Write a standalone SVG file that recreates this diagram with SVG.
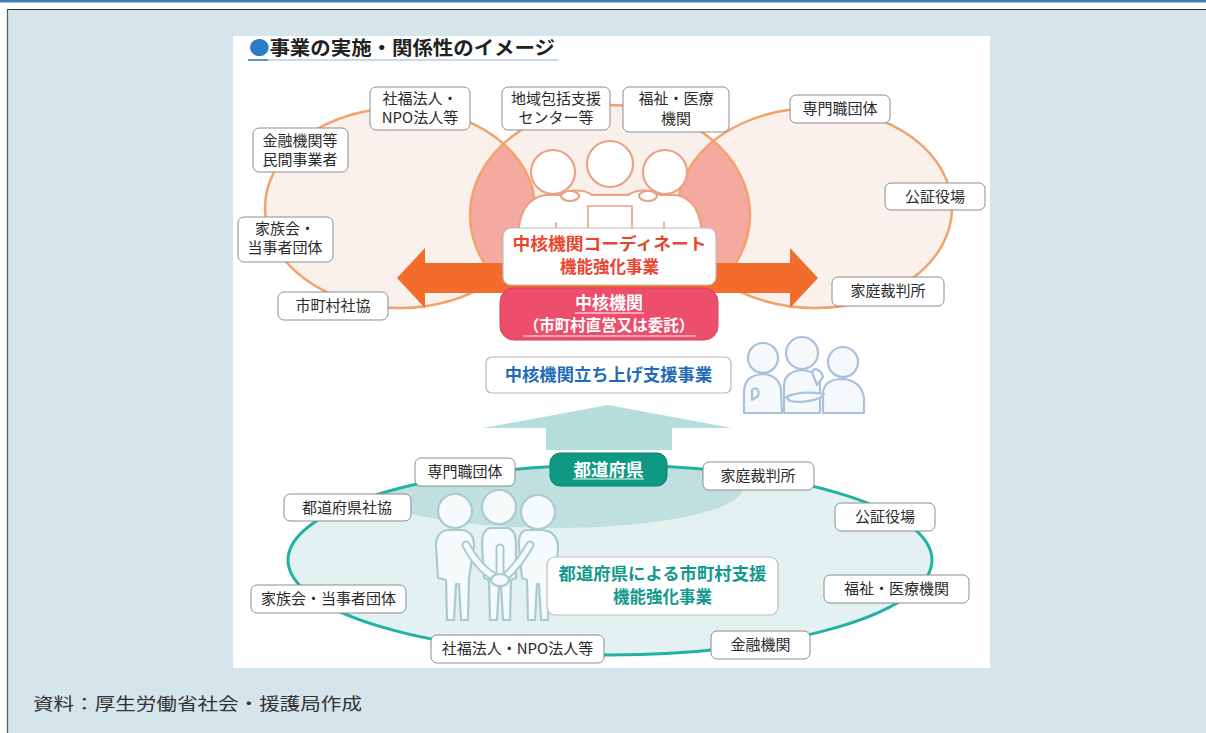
<svg xmlns="http://www.w3.org/2000/svg" width="1206" height="733" viewBox="0 0 1206 733">
  <style>
    .lbl rect { fill: #ffffff; stroke: #8c8c8c; stroke-width: 1; }
    .lbl text { font-family: "Noto Sans CJK JP", "Noto Sans", sans-serif; font-size: 15px; fill: #2b2b2b; text-anchor: middle; }
    .b { font-family: "Noto Sans CJK JP", "Noto Sans", sans-serif; font-weight: bold; text-anchor: middle; }
    .orangeP { fill: #ffffff; stroke: #eaa184; stroke-width: 2.2; stroke-linejoin: round; }
    .blueP { fill: #f6f9fc; stroke: #a9c1dd; stroke-width: 2.2; stroke-linejoin: round; }
    .tealP { fill: #f5fafa; stroke: #a9cbcf; stroke-width: 2.2; stroke-linejoin: round; }
    .armOut { fill: none; stroke: #a9cbcf; stroke-width: 9; stroke-linecap: round; }
    .armIn { fill: none; stroke: #f5fafa; stroke-width: 5; stroke-linecap: round; }
  </style>
  <defs>
    <clipPath id="midClip"><ellipse cx="610" cy="215" rx="140" ry="110"/></clipPath>
    <clipPath id="lowClip"><ellipse cx="610" cy="560" rx="322" ry="95"/></clipPath>
  </defs>

  <!-- page frame -->
  <rect x="0" y="0" width="1206" height="733" fill="#ffffff"/>
  <rect x="0" y="0" width="1206" height="2.5" fill="#3f7fb4"/>
  <rect x="7" y="9" width="1199" height="724" fill="#d6e4eb"/>
  <line x1="7" y1="9.5" x2="1206" y2="9.5" stroke="#333" stroke-width="1.2"/>
  <line x1="7.5" y1="9" x2="7.5" y2="733" stroke="#555" stroke-width="1.2"/>
  <rect x="233" y="36" width="757" height="632" fill="#ffffff"/>

  <!-- title -->
  <text x="249" y="55" font-family="'Noto Sans CJK JP', sans-serif" font-weight="bold" font-size="19" fill="#222" textLength="306" lengthAdjust="spacingAndGlyphs"><tspan fill="#2a7bc8">●</tspan>事業の実施・関係性のイメージ</text>
  <line x1="248" y1="60" x2="268" y2="60" stroke="#2a6db5" stroke-width="1.5"/>
  <line x1="268" y1="60" x2="558" y2="60" stroke="#8fb3d6" stroke-width="1.2"/>

  <!-- upper circles -->
  <g id="circles-top">
    <ellipse cx="400" cy="208" rx="135" ry="100" fill="#faf1ec"/>
    <ellipse cx="815" cy="208" rx="137" ry="100" fill="#faf1ec"/>
    <ellipse cx="610" cy="215" rx="140" ry="110" fill="#faf0eb"/>
    <g clip-path="url(#midClip)">
      <ellipse cx="400" cy="208" rx="135" ry="100" fill="#f5aaa0"/>
      <ellipse cx="815" cy="208" rx="137" ry="100" fill="#f5aaa0"/>
    </g>
    <g fill="none" stroke="#f4a26c" stroke-width="2.5">
      <ellipse cx="400" cy="208" rx="135" ry="100"/>
      <ellipse cx="815" cy="208" rx="137" ry="100"/>
      <ellipse cx="610" cy="215" rx="140" ry="110"/>
    </g>
  </g>

  <!-- lower circle -->
  <g id="circle-bottom">
    <ellipse cx="610" cy="560" rx="322" ry="95" fill="#e3f1f1"/>
    <g clip-path="url(#lowClip)">
      <ellipse cx="555" cy="488" rx="188" ry="40" fill="#bfe0df"/>
    </g>
    <ellipse cx="610" cy="560" rx="322" ry="95" fill="none" stroke="#22b2a4" stroke-width="3"/>
  </g>

  <!-- people: team around the core office -->
  <g id="people-top">
    <path class="orangeP" d="M518,240 C518,214 527,198 545,195 L560,195 C568,189 585,189 592,195 L628,195 C636,189 652,189 660,195 L676,195 C694,198 702,214 702,240 Z"/>
    <path d="M588,240 L588,206 L632,206 L632,240 M556,240 L556,222 M664,240 L664,222" fill="none" stroke="#eaa184" stroke-width="1.6"/>
    <circle class="orangeP" cx="553" cy="172" r="22"/>
    <circle class="orangeP" cx="665" cy="172" r="22"/>
    <circle class="orangeP" cx="610" cy="164" r="23"/>
    <ellipse class="orangeP" cx="570" cy="196" rx="9" ry="5"/>
    <ellipse class="orangeP" cx="648" cy="196" rx="9" ry="5"/>
  </g>

  <!-- connectors -->
  <g id="connectors">
    <polygon points="397,278 425,248 425,263 790,263 790,248 818,278 790,308 790,293 425,293 425,308" fill="#f26c2b"/>
    <polygon points="608,405 732,428 672,428 672,450 546,450 546,428 483,428" fill="#b3dedb"/>
  </g>

  <!-- core coordination box -->
  <g id="node-coordinate">
    <rect x="503" y="228" width="213" height="57" rx="8" fill="#ffffff" stroke="#bdbdbd" stroke-width="1.2"/>
    <text class="b" font-size="16.5" fill="#e8452f" textLength="194" lengthAdjust="spacingAndGlyphs" x="609.5" y="250">中核機関コーディネート</text>
    <text class="b" font-size="16.5" fill="#e8452f" x="609.5" y="273">機能強化事業</text>
  </g>

  <g id="node-core">
    <rect x="500" y="288" width="218" height="52" rx="14" fill="#ec4e6b" stroke="#e23c5b" stroke-width="1"/>
    <text class="b" fill="#ffffff"><tspan x="609" y="309" font-size="17">中核機関</tspan><tspan x="609" y="331" font-size="15.5">（市町村直営又は委託）</tspan></text>
    <line x1="575" y1="313" x2="644" y2="313" stroke="#ffffff" stroke-width="1.2"/>
    <line x1="523" y1="336" x2="696" y2="336" stroke="#ffffff" stroke-width="1.2"/>
  </g>

  <g id="node-launch">
    <rect x="486" y="357" width="245" height="36" rx="6" fill="#ffffff" stroke="#b8b8b8" stroke-width="1.2"/>
    <text class="b" x="608.5" y="381" font-size="17.3" fill="#1f6bb5">中核機関立ち上げ支援事業</text>
  </g>

  <!-- people: discussion group -->
  <g id="people-mid">
    <path class="blueP" d="M744,413 L744,392 C744,381 750,375 763,374 C775,375 780,381 781,390 L782,413 Z"/>
    <path class="blueP" d="M784,413 L784,386 C784,376 790,371 802,370 C814,371 820,376 820,386 L820,413 Z"/>
    <path class="blueP" d="M823,413 L823,394 C823,384 830,379 843,379 C855,380 862,386 864,398 L864,413 Z"/>
    <path class="blueP" d="M786,397 C798,391 812,392 824,394 C820,401 800,403 790,401 Z"/>
    <path class="blueP" d="M817,385 L812,372 C814,367 821,369 823,377 Z"/>
    <path class="blueP" d="M752,400 L752,390 C756,386 760,390 758,396 Z"/>
    <circle class="blueP" cx="763" cy="358" r="15"/>
    <circle class="blueP" cx="802" cy="353" r="16"/>
    <circle class="blueP" cx="843" cy="362" r="15"/>
  </g>

  <!-- prefecture box -->
  <g id="node-pref">
    <rect x="550" y="453" width="117" height="33" rx="10" fill="#0e9983" stroke="#0b7e6c" stroke-width="1"/>
    <text class="b" x="608.5" y="476" font-size="17.5" fill="#ffffff">都道府県</text>
    <line x1="573" y1="479" x2="644" y2="479" stroke="#ffffff" stroke-width="1.2"/>
  </g>

  <!-- people: joining hands -->
  <g id="people-bottom">
    <path class="tealP" d="M447,530 Q436,532 436,546 L438,578 L446,580 L447,620 L454,620 L456,584 L459,584 L461,620 L468,620 L469,578 L474,546 Q474,532 463,530 Z"/>
    <path class="tealP" d="M490,528 Q482,530 482,544 L484,578 L489,580 L490,620 L497,620 L499,584 L501,584 L503,620 L510,620 L511,580 L516,578 L516,544 Q516,530 508,528 Z"/>
    <path class="tealP" d="M526,530 Q518,532 519,546 L522,578 L527,580 L528,620 L535,620 L537,584 L539,584 L541,620 L548,620 L549,580 L556,576 L558,548 Q558,532 543,530 Z"/>
    <path class="armOut" d="M466,545 Q478,568 496,578 M530,545 Q518,566 504,578 M500,548 L500,575"/>
    <path class="armIn" d="M466,545 Q478,568 496,578 M530,545 Q518,566 504,578 M500,548 L500,575"/>
    <ellipse class="tealP" cx="500" cy="580" rx="9" ry="6"/>
    <circle class="tealP" cx="455" cy="511" r="17"/>
    <circle class="tealP" cx="499" cy="507" r="17"/>
    <circle class="tealP" cx="538" cy="512" r="17"/>
  </g>

  <g id="node-pref-support">
    <rect x="547" y="557" width="231" height="58" rx="8" fill="#ffffff" stroke="#bdbdbd" stroke-width="1.2"/>
    <text class="b" font-size="16.5" fill="#12998b" x="662.5" y="580" textLength="208" lengthAdjust="spacingAndGlyphs">都道府県による市町村支援</text>
    <text class="b" font-size="16.5" fill="#12998b" x="662.5" y="603">機能強化事業</text>
  </g>

  <!-- partner labels, upper circles -->
  <g id="lbl-shafuku" class="lbl"><rect x="370" y="87" width="100" height="43" rx="6"/><text><tspan x="420" y="104">社福法人・</tspan><tspan x="420" y="123">NPO法人等</tspan></text></g>
  <g id="lbl-houkatsu" class="lbl"><rect x="502" y="87" width="108" height="43" rx="6"/><text><tspan x="556" y="104">地域包括支援</tspan><tspan x="556" y="123">センター等</tspan></text></g>
  <g id="lbl-iryou" class="lbl"><rect x="623" y="87" width="106" height="45" rx="6"/><text><tspan x="676" y="104">福祉・医療</tspan><tspan x="676" y="124">機関</tspan></text></g>
  <g id="lbl-senmon" class="lbl"><rect x="790" y="95" width="100" height="28" rx="6"/><text x="840" y="114">専門職団体</text></g>
  <g id="lbl-kinyuu" class="lbl"><rect x="253" y="128" width="95" height="44" rx="6"/><text><tspan x="300" y="146">金融機関等</tspan><tspan x="300" y="165">民間事業者</tspan></text></g>
  <g id="lbl-koushou" class="lbl"><rect x="885" y="183" width="100" height="27" rx="6"/><text x="935" y="202">公証役場</text></g>
  <g id="lbl-kazoku" class="lbl"><rect x="238" y="217" width="95" height="45" rx="6"/><text><tspan x="285" y="234">家族会・</tspan><tspan x="285" y="253">当事者団体</tspan></text></g>
  <g id="lbl-shakyou" class="lbl"><rect x="278" y="292" width="110" height="28" rx="6"/><text x="333" y="311">市町村社協</text></g>
  <g id="lbl-katei" class="lbl"><rect x="832" y="277" width="112" height="29" rx="6"/><text x="888" y="296">家庭裁判所</text></g>

  <!-- partner labels, lower circle -->
  <g id="lbl2-senmon" class="lbl"><rect x="415" y="458" width="100" height="28" rx="6"/><text x="465" y="477">専門職団体</text></g>
  <g id="lbl2-katei" class="lbl"><rect x="703" y="462" width="111" height="28" rx="6"/><text x="758" y="481">家庭裁判所</text></g>
  <g id="lbl2-shakyou" class="lbl"><rect x="284" y="494" width="127" height="27" rx="6"/><text x="347" y="513">都道府県社協</text></g>
  <g id="lbl2-koushou" class="lbl"><rect x="835" y="503" width="100" height="28" rx="6"/><text x="885" y="522">公証役場</text></g>
  <g id="lbl2-kazoku" class="lbl"><rect x="251" y="585" width="155" height="28" rx="6"/><text x="328.5" y="604">家族会・当事者団体</text></g>
  <g id="lbl2-iryou" class="lbl"><rect x="824" y="575" width="145" height="28" rx="6"/><text x="896.5" y="594">福祉・医療機関</text></g>
  <g id="lbl2-shafuku" class="lbl"><rect x="431" y="635" width="173" height="28" rx="6"/><text x="517.5" y="654">社福法人・NPO法人等</text></g>
  <g id="lbl2-kinyuu" class="lbl"><rect x="711" y="631" width="99" height="28" rx="6"/><text x="760.5" y="650">金融機関</text></g>

  <!-- source note -->
  <text x="33" y="710" font-family="'Noto Sans CJK JP', sans-serif" font-size="17" fill="#333" textLength="329" lengthAdjust="spacingAndGlyphs">資料：厚生労働省社会・援護局作成</text>
</svg>
